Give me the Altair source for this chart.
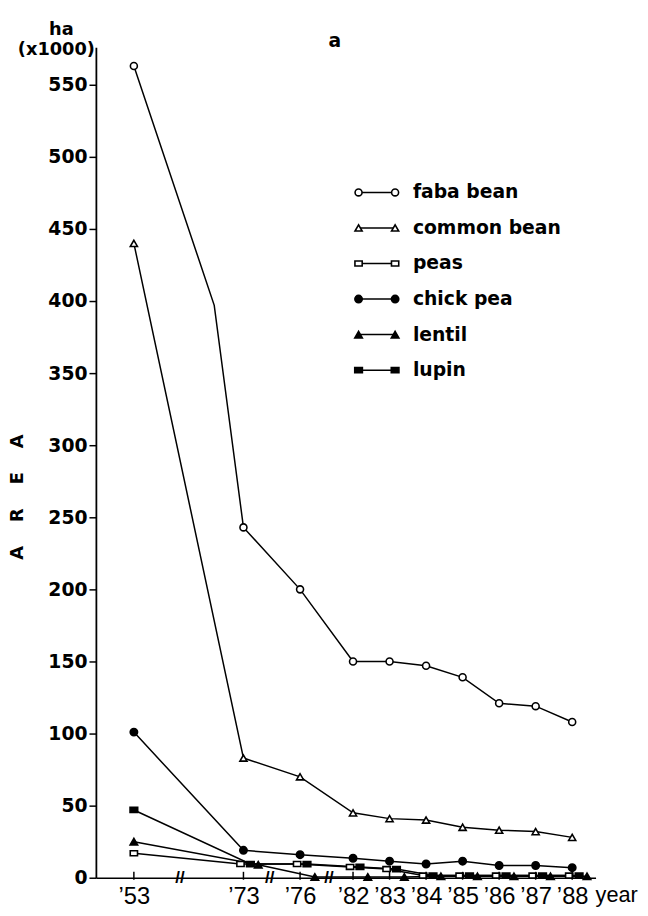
import json
import altair as alt
import pandas as pd

# ---------------- data ----------------
years = ["’53", "’73", "’76", "’82", "’83", "’84", "’85", "’86", "’87", "’88"]
series = ["faba bean", "common bean", "peas", "chick pea", "lentil", "lupin"]

faba_bean   = [563, 243, 200, 150, 150, 147, 139, 121, 119, 108]
common_bean = [440, 83, 70, 45, 41, 40, 35, 33, 32, 28]
peas        = [17, 9.5, 9.5, 7.5, 6, 1.5, 1.5, 1.5, 1.5, 1.5]
chick_pea   = [101, 19, 16, 13.5, 11.5, 9.5, 11.5, 8.5, 8.5, 7]
lentil      = [25, 9, 0.5, 0.5, 0.5, 1, 1, 1, 1, 1]
lupin       = [47, 9.5, 9.5, 7.5, 6, 1.5, 1.5, 1.5, 1.5, 1.5]

# unmarked bend of the faba bean line inside the '53-'73 axis gap
faba_bend_slot = 2.2
faba_bend_value = 397

# ---------------- layout / style ----------------
year_slots = [0, 3, 4.55, 6, 7, 8, 9, 10, 11, 12]   # broken, uneven year axis
break_slots = [1.26, 3.72, 5.34]                     # "//" marks on the axis
PX = 37.0                                            # px per slot
W, H = 506, 841
x_domain = [-1.04, 12.64]
y_domain = [0, 576]
marker_dx = {"peas": -3, "lupin": 7, "lentil": 15}   # side-by-side offsets (px)

RECT = "M-1,-0.68H1V0.68H-1Z"
shape_range = ["circle", "triangle-up", RECT, "circle", "triangle-up", RECT]
fill_range = ["white", "white", "white", "black", "black", "black"]
size_range = [50, 60, 110, 80, 60, 100]

values = {
    "faba bean": faba_bean, "common bean": common_bean, "peas": peas,
    "chick pea": chick_pea, "lentil": lentil, "lupin": lupin,
}

rows = []
for s in series:
    for i, (yr, v) in enumerate(zip(years, values[s])):
        dx = marker_dx.get(s, 0) / PX if i > 0 else 0
        rows.append({"series": s, "year": yr, "slot": year_slots[i] + dx, "value": v})
pt_df = pd.DataFrame(rows)
line_df = pd.concat([pt_df, pd.DataFrame([{"series": "faba bean", "year": "",
                                           "slot": faba_bend_slot,
                                           "value": faba_bend_value}])],
                    ignore_index=True)
tick_df = pd.DataFrame({"slot": year_slots})
break_df = pd.DataFrame({"slot": break_slots})
leg_df = pd.DataFrame({"series": series, "order": list(range(len(series)))})

FONT = "DejaVu Sans"
LIB = "Liberation Sans"

x_scale = alt.Scale(domain=x_domain, nice=False, zero=False)
y_scale = alt.Scale(domain=y_domain, nice=False, zero=True)
shape_scale = alt.Scale(domain=series, range=shape_range)
fill_scale = alt.Scale(domain=series, range=fill_range)
size_scale = alt.Scale(domain=series, range=size_range)

label_expr = (json.dumps(years, ensure_ascii=False)
              + "[indexof(" + json.dumps(year_slots) + ", datum.value)]")

x_axis = alt.Axis(values=year_slots, labelExpr=label_expr, ticks=False,
                  tickSize=0, domainColor="black", domainWidth=1.6,
                  labelFont=LIB, labelFontSize=24, labelColor="black",
                  labelPadding=7, grid=False, labelFlush=False,
                  labelOverlap=False)
area_title = "A\u2003\u00a0R\u2003\u00a0E\u2003\u00a0A"
y_axis = alt.Axis(values=list(range(0, 551, 50)), tickSize=7, tickWidth=1.5,
                  tickColor="black", domainColor="black", domainWidth=1.8,
                  labelFont=FONT, labelFontWeight="bold", labelFontSize=19,
                  labelColor="black", labelPadding=2, grid=False,
                  title=area_title, titleFont=FONT, titleFontWeight="bold",
                  titleFontSize=18, titleColor="black", titleX=-79, titleY=455,
                  titleAngle=270, titleAlign="center", titleBaseline="middle")

X = alt.X("slot:Q", scale=x_scale, axis=x_axis, title=None)
Y = alt.Y("value:Q", scale=y_scale, axis=y_axis)

lines = alt.Chart(line_df).mark_line(color="black", strokeWidth=1.5).encode(
    x=X, y=Y, detail="series:N", order="slot:Q")

points = alt.Chart(pt_df).mark_point(stroke="black", strokeWidth=1.6,
                                     opacity=1, fillOpacity=1).encode(
    x=alt.X("slot:Q", scale=x_scale),
    y=alt.Y("value:Q", scale=y_scale),
    shape=alt.Shape("series:N", scale=shape_scale, legend=None),
    fill=alt.Fill("series:N", scale=fill_scale, legend=None),
    size=alt.Size("series:N", scale=size_scale, legend=None),
)

xticks = alt.Chart(tick_df).mark_rule(color="black", strokeWidth=1.5).encode(
    x=alt.X("slot:Q", scale=x_scale), y=alt.value(H - 6), y2=alt.value(H + 2))

breaks = alt.Chart(break_df).mark_text(text="//", font=LIB, fontSize=17,
                                       fontWeight="bold", color="black",
                                       baseline="middle", align="center").encode(
    x=alt.X("slot:Q", scale=x_scale), y=alt.value(H))

main = alt.layer(lines, points, xticks, breaks)

# ---------------- legend ----------------
leg_y = alt.Y("order:Q", scale=alt.Scale(domain=[0, 5], range=[147, 327]), axis=None)
LX1, LX2, LTX = 266, 303, 321
leg_line = alt.Chart(leg_df).mark_rule(color="black", strokeWidth=1.5).encode(
    x=alt.value(LX1), x2=alt.value(LX2), y=leg_y)


def leg_pts(xpos):
    return alt.Chart(leg_df).mark_point(stroke="black", strokeWidth=1.6,
                                        opacity=1, fillOpacity=1).encode(
        x=alt.value(xpos), y=leg_y,
        shape=alt.Shape("series:N", scale=shape_scale, legend=None),
        fill=alt.Fill("series:N", scale=fill_scale, legend=None),
        size=alt.Size("series:N", scale=size_scale, legend=None),
    )


leg_text = alt.Chart(leg_df).mark_text(align="left", baseline="middle", font=FONT,
                                       fontSize=19, fontWeight="bold",
                                       color="black").encode(
    x=alt.value(LTX), y=leg_y, text="series:N")

legend = alt.layer(leg_line, leg_pts(LX1), leg_pts(LX2), leg_text)

# ---------------- annotations ----------------
def note(txt, x, y, size=19, weight="bold", align="center", font=FONT):
    return alt.Chart(pd.DataFrame({"t": [txt]})).mark_text(
        font=font, fontSize=size, fontWeight=weight, color="black",
        align=align, baseline="alphabetic").encode(
        text="t:N", x=alt.value(x), y=alt.value(y))


notes = alt.layer(
    note("ha", -35, -12, size=18),
    note("(x1000)", -40, 8, size=18),
    note("a", 242, 0),
    note("year", 506, 866, size=22, weight="normal", align="left", font=LIB),
)

chart = alt.layer(main, legend, notes).resolve_scale(y="independent").properties(
    width=W, height=H,
    autosize=alt.AutoSizeParams(type="none"),
    padding={"left": 89, "top": 34, "right": 45, "bottom": 33},
).configure_view(stroke=None)

chart.save("out.html", embed_options={"renderer": "svg", "actions": False})
